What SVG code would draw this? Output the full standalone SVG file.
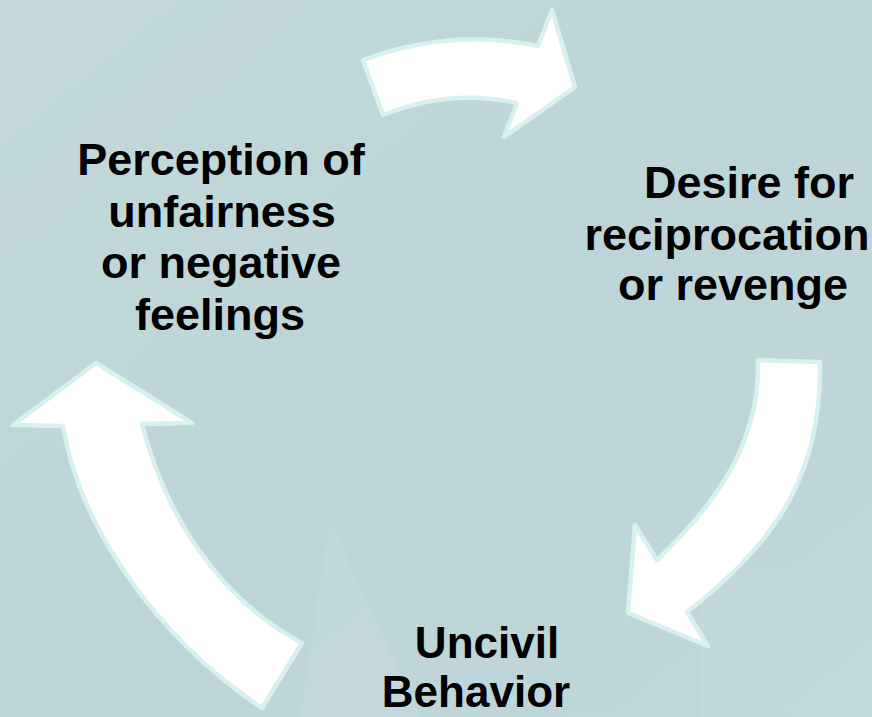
<svg xmlns="http://www.w3.org/2000/svg" width="872" height="717" viewBox="0 0 872 717">
  <defs>
    <linearGradient id="bg" x1="0" y1="0" x2="1" y2="1">
      <stop offset="0" stop-color="#c3d9dc"/>
      <stop offset="0.5" stop-color="#bdd5d8"/>
      <stop offset="1" stop-color="#c0d7da"/>
    </linearGradient>
    <style>
      .lbl { font-family: "Liberation Sans", Arial, sans-serif; font-weight: bold; font-size: 45px; fill: #000; text-anchor: middle; }
      .sm { font-size: 44px; }
      .arrow { fill: #ffffff; stroke: #d8f1ee; stroke-width: 4.5; stroke-linejoin: round; }
    </style>
  </defs>

  <rect width="872" height="717" fill="url(#bg)"/>
  <g opacity="0.2">
    <path d="M330 520 L420 717 L300 717 Z" fill="#d2e4e7"/>
    <path d="M700 580 Q800 560 872 600 V717 H700 Z" fill="#cde0e0"/>
  </g>

  <g id="connectors">
    <path id="arrow-top" class="arrow" d="M363,60 Q449,28 538,46 L552,10 L575,87 L504,137 L517,103 Q450,88 383,115 Z"/>
    <path id="arrow-right" class="arrow" d="M758,360 L820,362 C822,470 780,540 687,612 L708,646 L628,613 L635,525 L657,560 C720,500 760,440 758,360 Z"/>
    <path id="arrow-left" class="arrow" d="M96,363 L192,423 L142,424 C165,515 220,600 302,643 L262,708 C160,640 80,530 63,426 L13,425 Z"/>
  </g>

  <g id="node-perception">
    <text class="lbl" x="221" y="175">Perception of</text>
    <text class="lbl" x="222" y="227">unfairness</text>
    <text class="lbl" x="221" y="278">or negative</text>
    <text class="lbl" x="220" y="330">feelings</text>
  </g>

  <g id="node-desire">
    <text class="lbl" x="749" y="198">Desire for</text>
    <text class="lbl" x="727" y="250">reciprocation</text>
    <text class="lbl" x="733" y="300">or revenge</text>
  </g>

  <g id="node-uncivil">
    <text class="lbl sm" x="487" y="658">Uncivil</text>
    <text class="lbl sm" x="476" y="707">Behavior</text>
  </g>
</svg>
